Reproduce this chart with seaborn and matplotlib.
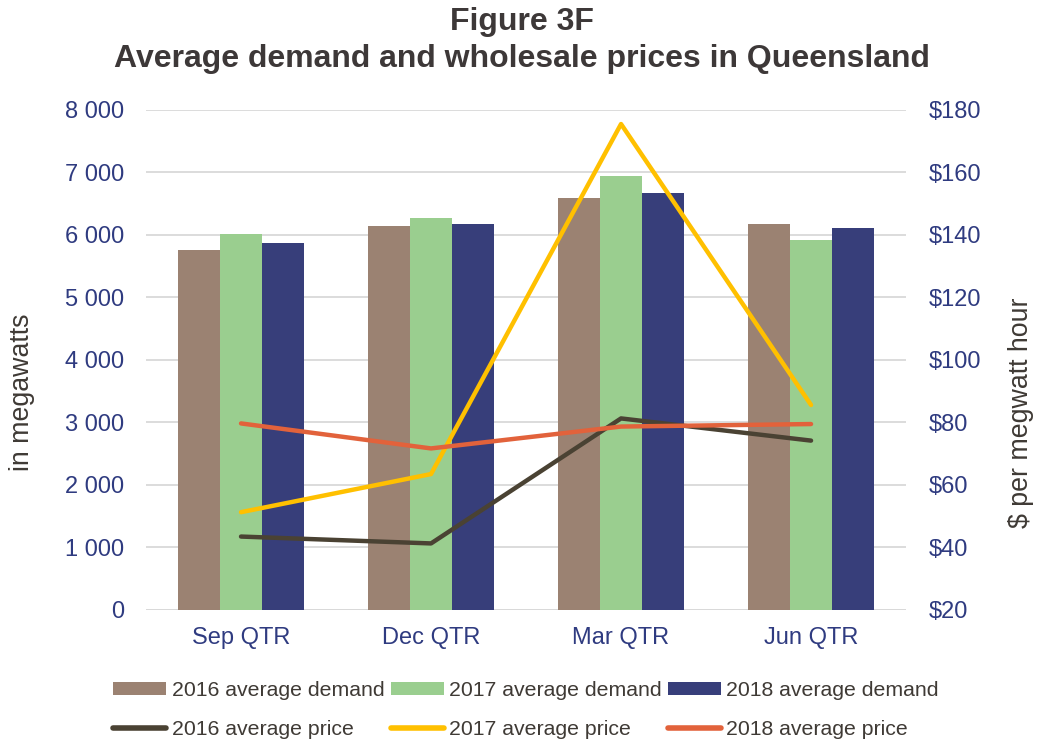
import numpy as np
import pandas as pd
import seaborn as sns
import matplotlib.pyplot as plt
from matplotlib.ticker import FuncFormatter, MultipleLocator

# Data
quarters = ['Sep QTR', 'Dec QTR', 'Mar QTR', 'Jun QTR']
demand_2016 = [5760, 6140, 6590, 6180]
demand_2017 = [6010, 6270, 6945, 5915]
demand_2018 = [5865, 6180, 6670, 6105]
price_2016 = [43.5, 41.3, 81.3, 74.2]
price_2017 = [51.3, 63.5, 175.5, 85.6]
price_2018 = [79.7, 71.7, 78.7, 79.5]

demand_labels = ['2016 average demand', '2017 average demand', '2018 average demand']
price_labels = ['2016 average price', '2017 average price', '2018 average price']
bar_colors = ['#9B8272', '#9ACE8F', '#373E7A']
line_colors = ['#4A4233', '#FFC000', '#E2623B']

tick_color = '#2F3B80'
text_color = '#3F3A35'

sns.set_theme(style="white")
plt.rcParams['font.family'] = ['Liberation Sans', 'DejaVu Sans']

demand = pd.DataFrame({
    'quarter': quarters * 3,
    'series': [l for l in demand_labels for _ in quarters],
    'value': demand_2016 + demand_2017 + demand_2018,
})
price = pd.DataFrame({
    'pos': list(range(len(quarters))) * 3,
    'series': [l for l in price_labels for _ in quarters],
    'value': price_2016 + price_2017 + price_2018,
})

fig = plt.figure(figsize=(10.4, 7.42), dpi=100)
ax = fig.add_axes([0.1404, 0.1779, 0.7308, 0.6739])

sns.barplot(data=demand, x='quarter', y='value', hue='series', order=quarters,
            palette=dict(zip(demand_labels, bar_colors)), width=0.663,
            saturation=1, linewidth=0, ax=ax)
bar_handles, bar_lbls = ax.get_legend_handles_labels()
ax.get_legend().remove()

ax.set_ylim(0, 8000)
ax.set_xlim(-0.5, len(quarters) - 0.5)
ax.yaxis.set_major_locator(MultipleLocator(1000))
ax.yaxis.set_major_formatter(FuncFormatter(lambda v, p: f'{int(v):,}'.replace(',', ' ')))
ax.grid(axis='y', color='#D9D9D9', linewidth=1.3)
ax.set_axisbelow(True)
sns.despine(ax=ax, left=True, bottom=True)
ax.set_xlabel('')
ax.set_ylabel('in megawatts', fontsize=19.3, color=text_color)
ax.yaxis.set_label_coords(-0.146, 0.436)
ax.tick_params(axis='y', length=0, pad=16, labelsize=17, labelcolor=tick_color)
ax.tick_params(axis='x', length=0, pad=12, labelsize=17, labelcolor=tick_color)

ax2 = ax.twinx()
sns.lineplot(data=price, x='pos', y='value', hue='series',
             palette=dict(zip(price_labels, line_colors)), linewidth=3.2,
             solid_capstyle='round', ax=ax2)
line_handles, line_lbls = ax2.get_legend_handles_labels()
ax2.get_legend().remove()
ax2.set_xlim(-0.5, len(quarters) - 0.5)
ax2.set_ylim(20, 180)
ax2.yaxis.set_major_locator(MultipleLocator(20))
ax2.yaxis.set_major_formatter(FuncFormatter(lambda v, p: f'${int(v)}'))
ax2.grid(False)
for s in ax2.spines.values():
    s.set_visible(False)
ax2.set_xlabel('')
ax2.set_ylabel('$ per megwatt hour', fontsize=19.3, color=text_color)
ax2.yaxis.set_label_coords(1.134, 0.394)
ax2.tick_params(axis='y', length=0, pad=16, labelsize=17, labelcolor=tick_color)

# bottom baseline
ax.axhline(0, color='#D9D9D9', linewidth=1.3, zorder=0.5)

fig.text(0.5015, 0.971, 'Figure 3F', ha='center', va='center', fontsize=23,
         fontweight='bold', color='#3D3838')
fig.text(0.5015, 0.921, 'Average demand and wholesale prices in Queensland', ha='center',
         va='center', fontsize=23, fontweight='bold', color='#3D3838')

for h in line_handles:
    h.set_linewidth(4)
    h.set_solid_capstyle('round')

handles, labels = [], []
for i in range(3):
    handles += [bar_handles[i], line_handles[i]]
    labels += [bar_lbls[i], line_lbls[i]]

fig.legend(handles, labels, ncol=3, loc='upper center', bbox_to_anchor=(0.5058, 0.097),
           frameon=False, fontsize=15.3, handlelength=2.5, handleheight=0.55,
           handletextpad=0.25, columnspacing=0.3, labelspacing=0.95,
           labelcolor=text_color, borderpad=0)

fig.savefig('out.png', dpi=100)
